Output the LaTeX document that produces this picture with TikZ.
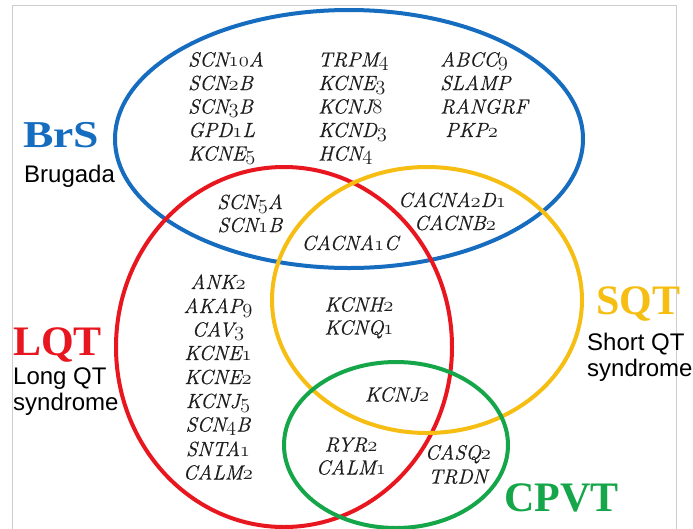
\documentclass[tikz,border=0pt]{standalone}
\usepackage{fix-cm}
\usepackage{fontspec}
\newfontfamily\labsans{Liberation Sans}
\newfontfamily\labserif{Liberation Serif}
\newfontfamily\genefont{Latin Modern Roman}[FakeBold=0.5]
\definecolor{vblue}{RGB}{22,108,190}
\definecolor{vred}{RGB}{232,22,30}
\definecolor{vyellow}{RGB}{246,190,18}
\definecolor{vgreen}{RGB}{22,166,74}
\definecolor{genegray}{RGB}{30,30,30}
\definecolor{framegray}{RGB}{205,205,205}
\newcommand\od[1]{{\fontencoding{OML}\fontfamily{cmm}\fontseries{m}\fontshape{it}\selectfont#1}}
\tikzset{
  venn/.style={line width=4pt},
  gene/.style={font=\genefont\fontsize{20.5}{24}\selectfont\itshape, text=genegray, inner sep=0pt, anchor=base west},
  genec/.style={gene, anchor=base},
  groupname/.style={font=\labserif\bfseries\fontsize{42}{46}\selectfont, inner sep=0pt, anchor=base west},
  groupsub/.style={font=\labsans\fontsize{24}{28}\selectfont, inner sep=0pt, anchor=base west, text=black},
  framebox/.style={draw=framegray, line width=1pt}
}
\begin{document}
\begin{tikzpicture}[x=1pt,y=-1pt]
\useasboundingbox (0,0) rectangle (693,528);
\fill[white] (0,0) rectangle (693,528);
% frame
\draw[framebox] (12,540) -- (12,5) -- (676,5) -- (676,540);
% ellipses
\draw[venn, vblue] (349,139) ellipse [x radius=234pt, y radius=129pt];
\draw[venn, vred] (284,347) ellipse [x radius=168pt, y radius=180pt];
\draw[venn, vyellow] (427,300) ellipse [x radius=155pt, y radius=133pt];
\draw[venn, vgreen] (396,445) ellipse [x radius=112pt, y radius=83pt];
% group labels
\node[groupname, text=vblue, font=\labserif\bfseries\fontsize{38}{42}\selectfont, xscale=1.2] (brs) at (23,147) {BrS};
\node[groupsub] (brsub) at (24,182) {Brugada};
\node[groupname, text=vred] (lqt) at (13,355) {LQT};
\node[groupsub] (lqtsub1) at (13,384) {Long QT};
\node[groupsub] (lqtsub2) at (13,410) {syndrome};
\node[groupname, text=vyellow] (sqt) at (596,314) {SQT};
\node[groupsub] (sqtsub1) at (587,350) {Short QT};
\node[groupsub] (sqtsub2) at (587,376) {syndrome};
\node[groupname, text=vgreen] (cpvt) at (504,511) {CPVT};
% BrS only genes
\node[gene] (b11) at (188,66.5) {SCN\od{10}A};
\node[gene] (b12) at (188,90) {SCN\od{2}B};
\node[gene] (b13) at (188,113.5) {SCN\od{3}B};
\node[gene] (b14) at (188,137) {GPD\od{1}L};
\node[gene] (b15) at (188,160.5) {KCNE\od{5}};
\node[gene] (b21) at (318,66.5) {TRPM\od{4}};
\node[gene] (b22) at (318,90) {KCNE\od{3}};
\node[gene] (b23) at (318,113.5) {KCNJ\od{8}};
\node[gene] (b24) at (318,137) {KCND\od{3}};
\node[gene] (b25) at (318,160.5) {HCN\od{4}};
\node[gene] (b31) at (440,66.5) {ABCC\od{9}};
\node[gene] (b32) at (440,90) {SLAMP};
\node[gene] (b33) at (440,113.5) {RANGRF};
\node[gene] (b34) at (445,137) {PKP\od{2}};
% overlaps
\node[genec] (bl1) at (250,209) {SCN\od{5}A};
\node[genec] (bl2) at (250,232) {SCN\od{1}B};
\node[genec] (bs1) at (452,207) {CACNA\od{2}D\od{1}};
\node[genec] (bs2) at (455,230) {CACNB\od{2}};
\node[genec] (bls) at (350,250) {CACNA\od{1}C};
% LQT only
\node[genec] (l1) at (218,289) {ANK\od{2}};
\node[genec] (l2) at (218,313) {AKAP\od{9}};
\node[genec] (l3) at (218,336.5) {CAV\od{3}};
\node[genec] (l4) at (218,360) {KCNE\od{1}};
\node[genec] (l5) at (218,384) {KCNE\od{2}};
\node[genec] (l6) at (218,408) {KCNJ\od{5}};
\node[genec] (l7) at (218,431.5) {SCN\od{4}B};
\node[genec] (l8) at (218,456) {SNTA\od{1}};
\node[genec] (l9) at (218,479.5) {CALM\od{2}};
% LQT & SQT
\node[genec] (ls1) at (359,311.5) {KCNH\od{2}};
\node[genec] (ls2) at (359,334.5) {KCNQ\od{1}};
\node[genec] (lsc) at (397,401.5) {KCNJ\od{2}};
% LQT & CPVT
\node[genec] (lc1) at (351,451.5) {RYR\od{2}};
\node[genec] (lc2) at (351,474.5) {CALM\od{1}};
% CPVT only
\node[genec] (c1) at (458,459.5) {CASQ\od{2}};
\node[genec] (c2) at (458,483.5) {TRDN};
\end{tikzpicture}
\end{document}
